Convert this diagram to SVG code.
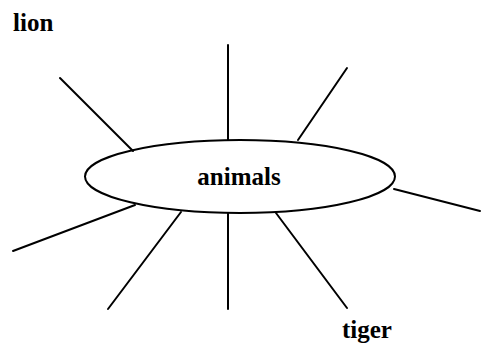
<svg xmlns="http://www.w3.org/2000/svg" width="482" height="347" viewBox="0 0 482 347">
<style>
.ln{stroke:#000;stroke-width:2;fill:none;stroke-linecap:round}
.t{font-family:"Liberation Serif","Times New Roman",serif;font-weight:bold;font-size:25px;fill:#000}
</style>
<rect width="482" height="347" fill="#fff"/>
<g id="connectors">
<line class="ln" x1="60" y1="78" x2="133" y2="151"/>
<line class="ln" x1="228" y1="45" x2="228" y2="140"/>
<line class="ln" x1="347" y1="68" x2="298" y2="140"/>
<line class="ln" x1="394" y1="189" x2="480" y2="211"/>
<line class="ln" x1="13" y1="251" x2="135" y2="205"/>
<line class="ln" x1="108" y1="309" x2="181" y2="212"/>
<line class="ln" x1="228" y1="213" x2="228" y2="309"/>
<line class="ln" x1="276" y1="213" x2="347" y2="308"/>
</g>
<g id="animals">
<ellipse class="ln" cx="240" cy="176.5" rx="155" ry="36.5"/>
<text class="t" x="239" y="185" text-anchor="middle">animals</text>
</g>
<g id="lion">
<text class="t" x="13" y="31">lion</text>
</g>
<g id="tiger">
<text class="t" x="342" y="338">tiger</text>
</g>
</svg>
